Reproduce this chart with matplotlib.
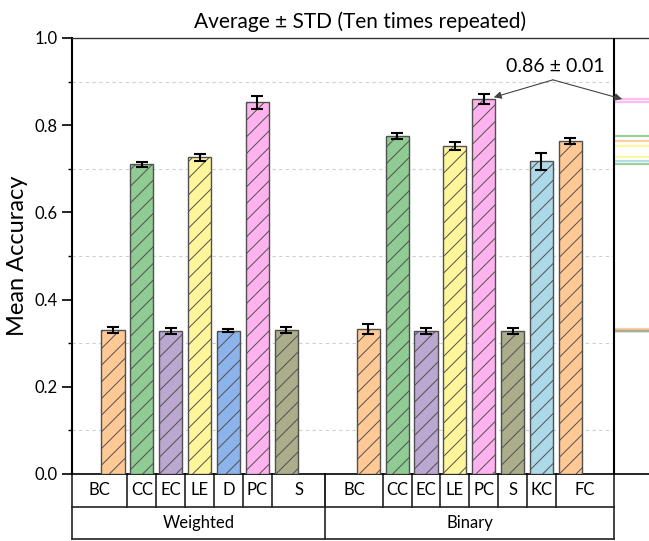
import matplotlib
matplotlib.use("Agg")
import matplotlib.pyplot as plt
import matplotlib.transforms as mtransforms
from matplotlib.ticker import MultipleLocator, FormatStrFormatter

plt.rcParams['font.family'] = ['Lato', 'DejaVu Sans']
plt.rcParams['hatch.linewidth'] = 0.7

# ---- data -------------------------------------------------------------
groups = ["Weighted", "Binary"]

weighted_labels = ["BC", "CC", "EC", "LE", "D", "PC", "S"]
weighted_mean = [0.331, 0.710, 0.329, 0.726, 0.329, 0.853, 0.330]
weighted_std = [0.007, 0.006, 0.007, 0.007, 0.004, 0.015, 0.007]

binary_labels = ["BC", "CC", "EC", "LE", "PC", "S", "KC", "FC"]
binary_mean = [0.332, 0.776, 0.328, 0.752, 0.860, 0.328, 0.717, 0.764]
binary_std = [0.011, 0.007, 0.006, 0.010, 0.012, 0.007, 0.020, 0.007]

palette = {
    "BC": "#FFC995", "CC": "#8FCB93", "EC": "#BBA8D0", "LE": "#FFF59A",
    "D": "#8DB3EB", "PC": "#FFB3EE", "S": "#ABAD8B", "KC": "#ACD8E8",
    "FC": "#FFC995",
}

# ---- layout (slot units) ---------------------------------------------
x_left, x_right = -1.42, 18.58
group_split = 7.366
panel_edge = 17.37
binary_start = 8.85
bar_w = 0.8

weighted_x = [i for i in range(len(weighted_labels))]
binary_x = [binary_start + i for i in range(len(binary_labels))]

fig = plt.figure(figsize=(6.49, 5.41), dpi=100)
ax = fig.add_axes([72 / 649, 1 - 474 / 541, 1 - 72 / 649, (474 - 38) / 541])

edge = "#505050"
for xs, labels, means, stds in [(weighted_x, weighted_labels, weighted_mean, weighted_std),
                                (binary_x, binary_labels, binary_mean, binary_std)]:
    for x, lab, m, s in zip(xs, labels, means, stds):
        ax.bar(x, m, width=bar_w, color=palette[lab], edgecolor=edge,
               linewidth=1.0, hatch="//", zorder=3)
        ax.errorbar(x, m, yerr=s, fmt="none", ecolor="black", elinewidth=1.5,
                    capsize=4.2, capthick=1.5, zorder=4)
        # value trace in the side panel
        ax.plot([panel_edge, x_right], [m, m], color=palette[lab], lw=1.6,
                solid_capstyle="butt", zorder=2, alpha=0.9)

# dashed grid at the minor positions, main area only
for g in [0.1, 0.3, 0.5, 0.7, 0.9]:
    ax.plot([x_left, panel_edge], [g, g], color="#cfcfcf", lw=0.8,
            ls=(0, (3, 3)), zorder=1)

ax.axvline(panel_edge, color="black", lw=1.5, zorder=5)

ax.set_xlim(x_left, x_right)
ax.set_ylim(0, 1.0)
ax.yaxis.set_major_locator(MultipleLocator(0.2))
ax.yaxis.set_minor_locator(MultipleLocator(0.1))
ax.yaxis.set_major_formatter(FormatStrFormatter("%.1f"))
ax.tick_params(axis="y", which="major", direction="out", length=7, width=1.2,
               labelsize=12, pad=3)
ax.tick_params(axis="y", which="minor", direction="out", length=3, width=1.0)
ax.set_xticks([])
ax.spines["right"].set_visible(False)
ax.spines["left"].set_linewidth(1.5)
ax.spines["bottom"].set_linewidth(1.2)
ax.spines["top"].set_linewidth(1.0)
ax.spines["top"].set_color("#333333")

ax.set_ylabel("Mean Accuracy", fontsize=17, labelpad=5)
ax.set_title("Average ± STD (Ten times repeated)", fontsize=15, pad=7)

# ---- category table under the axis ------------------------------------
trans = mtransforms.blended_transform_factory(ax.transData, ax.transAxes)
row_h = 32.5 / 436
line_kw = dict(color="#222222", lw=1.2, transform=trans, clip_on=False)

def cell_edges(xs, lo, hi):
    mids = [(a + b) / 2 for a, b in zip(xs[:-1], xs[1:])]
    return [lo] + mids + [hi]

w_edges = cell_edges(weighted_x, x_left, group_split)
b_edges = cell_edges(binary_x, group_split, panel_edge)

for edges, labels in [(w_edges, weighted_labels), (b_edges, binary_labels)]:
    for e in edges:
        ax.plot([e, e], [0, -row_h], **line_kw)
    for a, b, lab in zip(edges[:-1], edges[1:], labels):
        ax.text((a + b) / 2, -row_h / 2, lab, transform=trans, ha="center",
                va="center", fontsize=12)

for e in [x_left, group_split, panel_edge]:
    ax.plot([e, e], [-row_h, -2 * row_h], **line_kw)
for yy in [-row_h, -2 * row_h]:
    ax.plot([x_left, panel_edge], [yy, yy], **line_kw)
for (a, b), name in zip([(x_left, group_split), (group_split, panel_edge)], groups):
    ax.text((a + b) / 2, -1.5 * row_h, name, transform=trans, ha="center",
            va="center", fontsize=12)

# ---- callout for the best binary score --------------------------------
best = binary_labels.index("PC")
bm, bs = binary_mean[best], binary_std[best]
apex = (15.25, 0.904)
ax.text(15.32, 0.935, f"{bm:.2f} ± {bs:.2f}", ha="center", va="center",
        fontsize=14, zorder=6)
arrow = dict(arrowstyle="-|>", color="#444444", lw=0.8, mutation_scale=11,
             shrinkA=0, shrinkB=0)
ax.annotate("", xy=(binary_x[best] + bar_w / 2 - 0.05, bm + 0.004), xytext=apex,
            arrowprops=arrow, zorder=6)
ax.annotate("", xy=(panel_edge + 0.28, bm), xytext=apex, arrowprops=arrow,
            zorder=6)

fig.savefig("out.png", dpi=100)
